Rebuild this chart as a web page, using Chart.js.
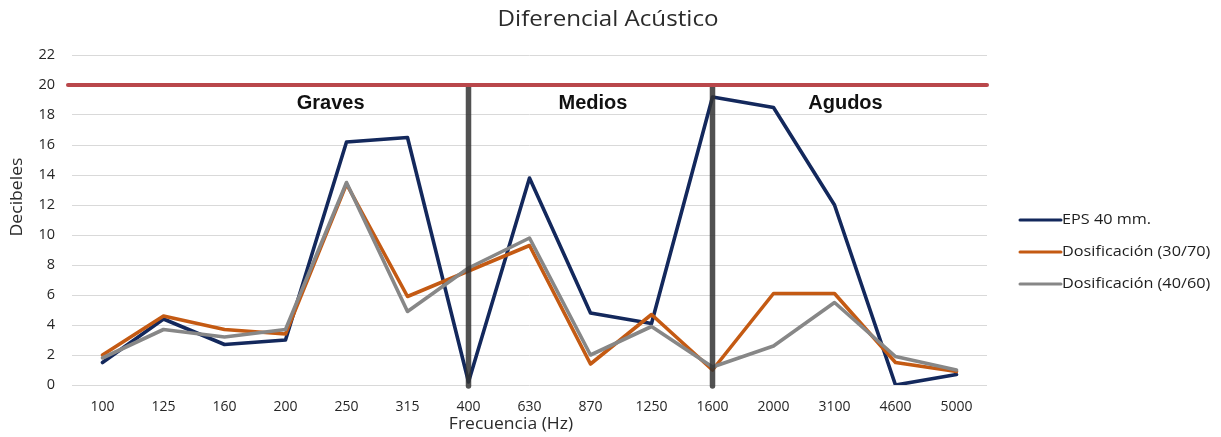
<!DOCTYPE html>
<html>
<head>
<meta charset="utf-8">
<script src="https://cdn.jsdelivr.net/npm/chart.js@4.4.1/dist/chart.umd.min.js"></script>
<style>
  html, body { margin: 0; padding: 0; background: #ffffff; }
  #wrap { width: 1221px; height: 437px; position: relative; }
</style>
</head>
<body>
<div id="wrap"><canvas id="grafico" width="1221" height="437"></canvas></div>
<script>
// Bandas de frecuencia (Hz)
const frecuencias = ['100', '125', '160', '200', '250', '315', '400', '630', '870', '1250', '1600', '2000', '3100', '4600', '5000'];

// Diferencial acústico (dB) por muestra
const eps40   = [1.5, 4.4, 2.7, 3.0, 16.2, 16.5, 0.2, 13.8, 4.8, 4.1, 19.2, 18.5, 12.0, 0.0, 0.7];
const dos3070 = [2.0, 4.6, 3.7, 3.4, 13.4, 5.9, 7.6, 9.3, 1.4, 4.7, 1.0, 6.1, 6.1, 1.5, 0.9];
const dos4060 = [1.8, 3.7, 3.2, 3.7, 13.5, 4.9, 7.8, 9.8, 2.0, 3.9, 1.2, 2.6, 5.5, 1.9, 1.0];

// Eje vertical
const yMin = 0;
const yMax = 22;
const yPaso = 2;

// Línea de referencia y separadores de rango
const limite = 20;
const separadores = ['400', '1600'];
const rangos = ['Graves', 'Medios', 'Agudos'];

const FUENTE = '"Open Sans", "Noto Sans", sans-serif';

// Texto con un ligero ensanchado horizontal
function texto(ctx, t, x, y, font, ancho, align) {
  ctx.save();
  ctx.font = font;
  ctx.textAlign = align || 'center';
  ctx.textBaseline = 'middle';
  ctx.translate(x, y);
  ctx.scale(ancho, 1);
  ctx.fillText(t, 0, 0);
  ctx.restore();
}

// Dibuja la línea límite, los separadores y los nombres de rango
const rangosPlugin = {
  id: 'rangos',
  afterDatasetsDraw(chart) {
    const { ctx, scales: { x, y }, chartArea } = chart;
    const yLim = y.getPixelForValue(limite);
    const y0 = y.getPixelForValue(0);
    ctx.save();
    // separadores verticales
    ctx.strokeStyle = 'rgba(50,50,50,0.85)';
    ctx.lineWidth = 5.5;
    ctx.lineCap = 'round';
    separadores.forEach(f => {
      const px = x.getPixelForValue(frecuencias.indexOf(f));
      ctx.beginPath();
      ctx.moveTo(px, yLim + 2);
      ctx.lineTo(px, y0 + 1);
      ctx.stroke();
    });
    // línea límite
    ctx.strokeStyle = '#b9474b';
    ctx.lineWidth = 4;
    ctx.lineCap = 'round';
    ctx.beginPath();
    ctx.moveTo(chartArea.left - 4, yLim);
    ctx.lineTo(chartArea.right, yLim);
    ctx.stroke();
    // nombres de rango
    const posiciones = [3.74, 8.04, 12.18];
    ctx.fillStyle = '#111111';
    rangos.forEach((t, i) => {
      texto(ctx, t, x.getPixelForValue(posiciones[i]), yLim + 18,
        'bold 20px "Liberation Sans", Arial, sans-serif', 1, 'center');
    });
    ctx.restore();
  },
  afterDraw(chart) {
    const { ctx } = chart;
    ctx.save();
    ctx.fillStyle = '#2b2b2b';
    // título
    texto(ctx, 'Diferencial Acústico', 608, 20, '21px ' + FUENTE, 1.15);
    // título eje X
    texto(ctx, 'Frecuencia (Hz)', 511, 424, '17px ' + FUENTE, 1.03);
    // título eje Y
    ctx.save();
    ctx.translate(17, 197);
    ctx.rotate(-Math.PI / 2);
    texto(ctx, 'Decibeles', 0, 0, '16px ' + FUENTE, 1.1);
    ctx.restore();
    ctx.restore();

    // leyenda
    ctx.save();
    chart.data.datasets.forEach((ds, i) => {
      const yy = 220 + i * 32;
      ctx.strokeStyle = ds.borderColor;
      ctx.lineWidth = 3;
      ctx.lineCap = 'round';
      ctx.beginPath();
      ctx.moveTo(1020, yy);
      ctx.lineTo(1061, yy);
      ctx.stroke();
      ctx.fillStyle = '#1e1e1e';
      texto(ctx, ds.label, 1062, yy, '14.5px ' + FUENTE, 1.12, 'left');
    });
    ctx.restore();
  }
};

new Chart(document.getElementById('grafico'), {
  type: 'line',
  data: {
    labels: frecuencias,
    datasets: [
      { label: 'EPS 40 mm.', data: eps40, borderColor: '#13285c', order: 3 },
      { label: 'Dosificación (30/70)', data: dos3070, borderColor: '#c45a13', order: 2 },
      { label: 'Dosificación (40/60)', data: dos4060, borderColor: '#878787', order: 1 }
    ]
  },
  options: {
    responsive: false,
    animation: false,
    devicePixelRatio: 1,
    layout: { padding: { top: 55, right: 234, left: 0, bottom: 0 } },
    elements: {
      line: { borderWidth: 3.6, tension: 0, fill: false, borderJoinStyle: 'round', borderCapStyle: 'round' },
      point: { radius: 0, hoverRadius: 0 }
    },
    plugins: {
      legend: { display: false },
      title: { display: false },
      tooltip: { enabled: false }
    },
    scales: {
      x: {
        offset: true,
        grid: { display: false },
        border: { display: false },
        ticks: { color: '#262626', font: { family: FUENTE, size: 14 }, padding: 6, maxRotation: 0 },
        afterFit(s) { s.height = 52; }
      },
      y: {
        min: yMin,
        max: yMax,
        grid: { color: '#d9d9d9', lineWidth: 1, drawTicks: false },
        border: { display: false },
        ticks: { stepSize: yPaso, color: '#262626', font: { family: FUENTE, size: 14.5 }, padding: 17 },
        afterFit(s) { s.width = 72; }
      }
    }
  },
  plugins: [rangosPlugin]
});
</script>
</body>
</html>
